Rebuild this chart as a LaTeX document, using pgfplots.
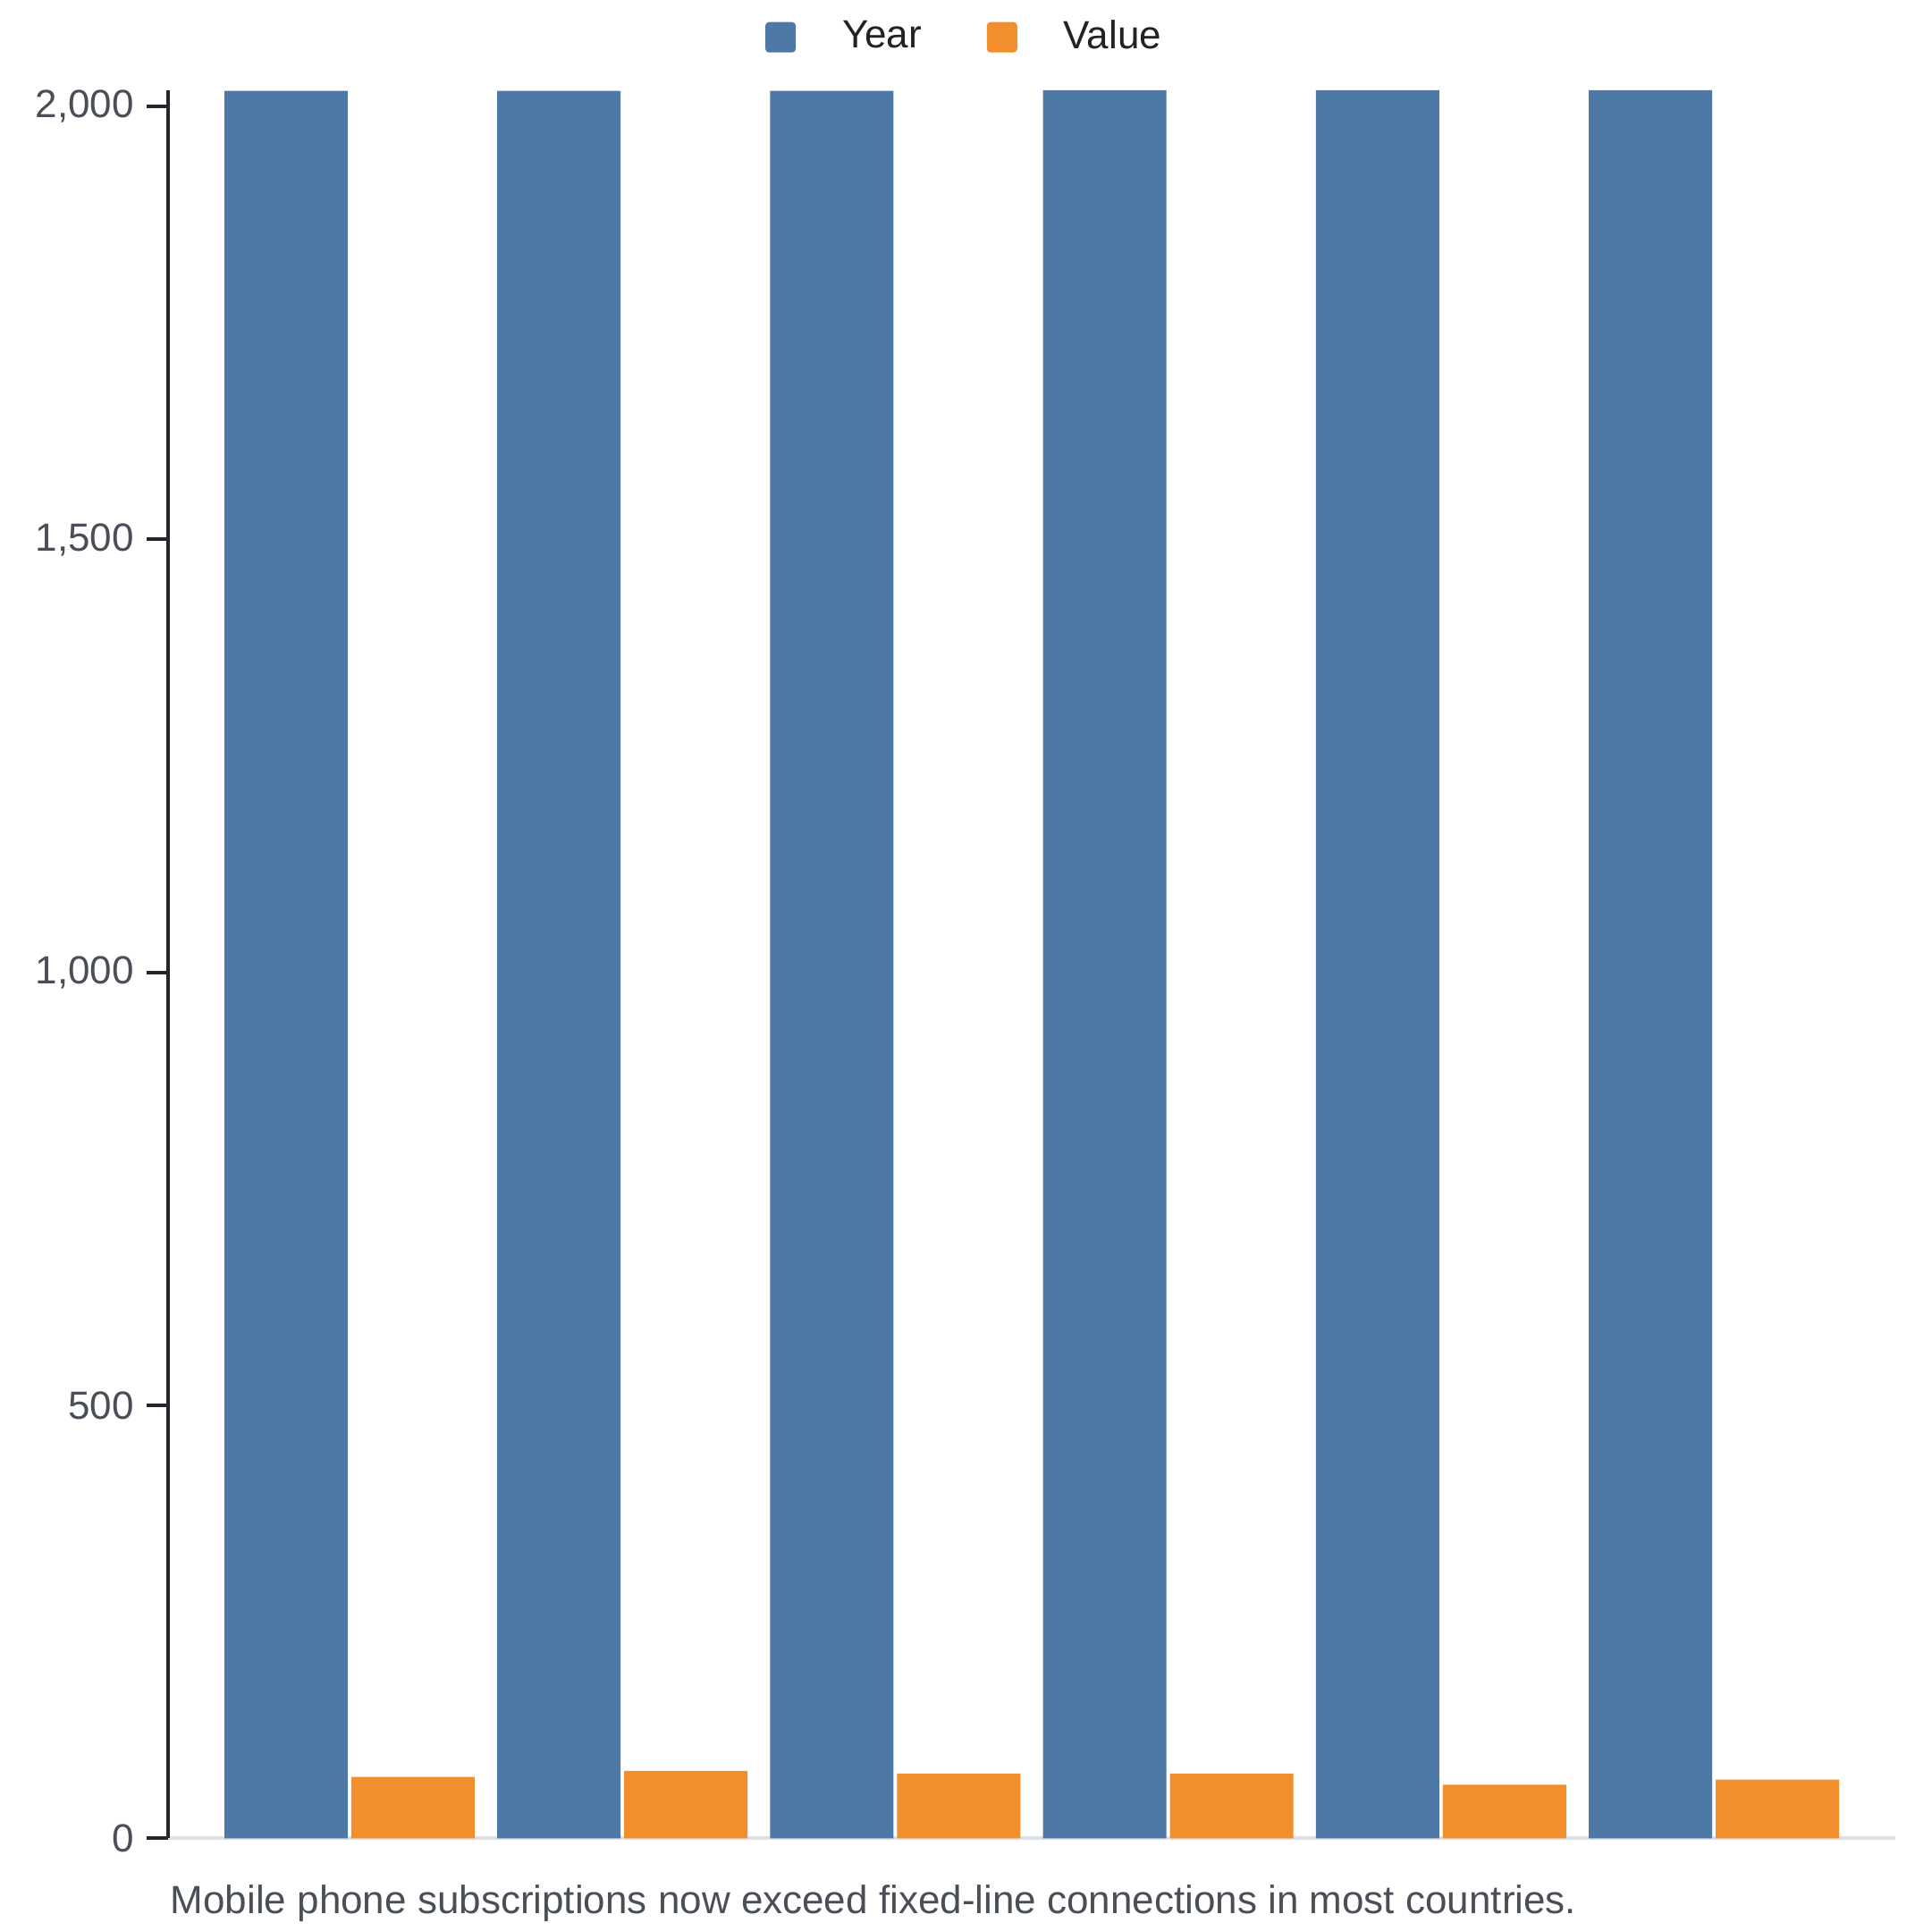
\documentclass[border=0pt]{standalone}
\usepackage{pgfplots}
\pgfplotsset{compat=1.18}
\usepackage{fontspec}
\setmainfont{Liberation Sans}
\definecolor{cblue}{HTML}{4E79A7}
\definecolor{corange}{HTML}{F28E2B}
\definecolor{ticktext}{HTML}{4A4F57}
\definecolor{legtext}{HTML}{222222}
\definecolor{captext}{HTML}{4A4F57}
\definecolor{axisdark}{HTML}{24262B}
\definecolor{basegray}{HTML}{DDE0E5}
\begin{document}
\begin{tikzpicture}
\path[use as bounding box] (0,0) rectangle (540pt,540pt);
\begin{axis}[
  at={(47pt,25.9pt)}, anchor=south west,
  scale only axis, width=483pt, height=488.9pt,
  xmin=-0.665, xmax=5.665, ymin=0, ymax=2019,
  axis x line=bottom, axis y line=left,
  x axis line style={-, draw=basegray, line width=1pt},
  y axis line style={-, draw=axisdark, line width=1pt},
  xtick=\empty,
  ytick={0,500,1000,1500,2000},
  tick align=outside, major tick length=6pt,
  ytick style={draw=axisdark, line width=1pt},
  yticklabel style={font=\fontsize{11}{13}\selectfont, text=ticktext},
  /pgf/number format/assume math mode=true,
  /pgf/number format/1000 sep={,},
  scaled y ticks=false,
  clip=false,
  legend style={at={(0.4625,1.0302)}, anchor=center, draw=none, fill=none,
    font=\fontsize{11}{13}\selectfont, text=legtext,
    /tikz/every odd column/.append style={column sep=11pt},
    /tikz/every even column/.append style={column sep=16.2pt}},
  legend columns=2,
  legend image code/.code={\path[#1, draw=none, rounded corners=1pt] (0pt,-4.25pt) rectangle (8.5pt,4.25pt);},
]
\addplot[ybar, bar width=0.452, bar shift=-0.2326, fill=cblue, draw=none]
  coordinates {(0,2018) (1,2018) (2,2018) (3,2019) (4,2019) (5,2019)};
\addplot[ybar, bar width=0.452, bar shift=0.2326, fill=corange, draw=none]
  coordinates {(0,71) (1,78) (2,75) (3,75) (4,62) (5,68)};
\legend{Year, Value}
\end{axis}
\node[anchor=base west, inner sep=0pt, text=captext, font=\fontsize{11}{13}\selectfont] at (47.5pt,5pt) {Mobile phone subscriptions now exceed fixed-line connections in most countries.};
\end{tikzpicture}
\end{document}
